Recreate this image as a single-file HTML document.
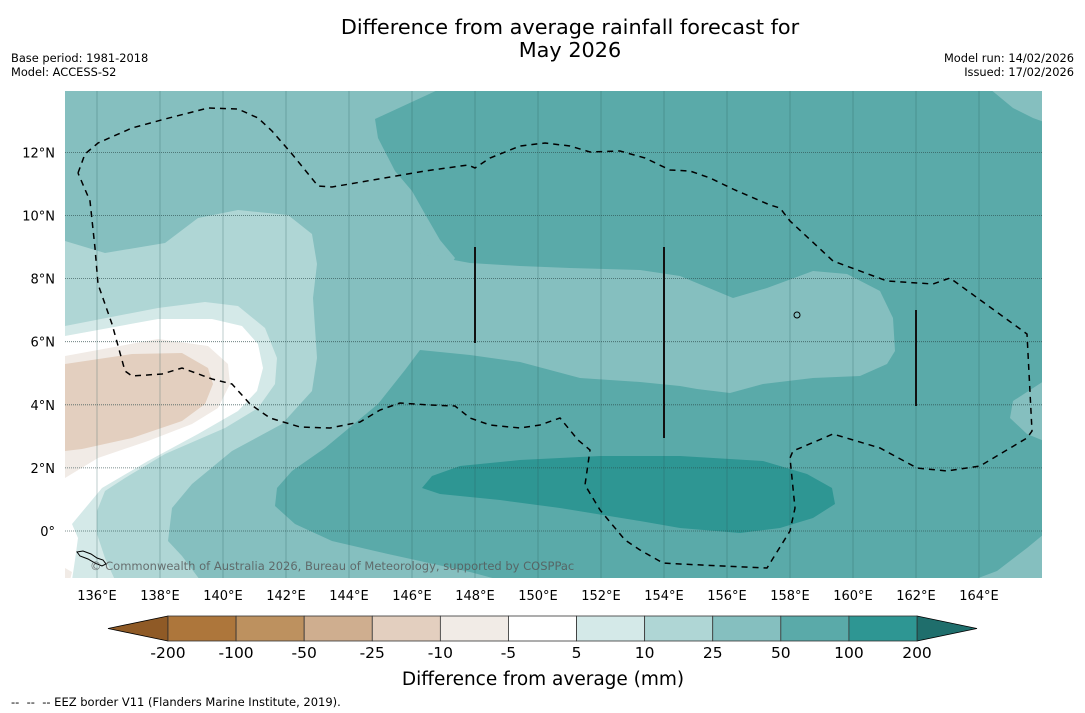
<!DOCTYPE html>
<html><head><meta charset="utf-8"><style>
body{margin:0;background:#fff;width:1085px;height:713px;overflow:hidden;font-family:"DejaVu Sans","Liberation Sans",sans-serif}
svg{position:absolute;left:0;top:0}
</style></head><body>
<svg id="s" width="1085" height="713" viewBox="0 0 1085 713">
<text x="570" y="34" font-size="20.8" text-anchor="middle" fill="#000">Difference from average rainfall forecast for</text>
<text x="570" y="57" font-size="20.8" text-anchor="middle" fill="#000">May 2026</text>
<text x="11" y="62" font-size="11.4">Base period: 1981-2018</text>
<text x="11" y="76" font-size="11.4">Model: ACCESS-S2</text>
<text x="1074" y="62" font-size="11.4" text-anchor="end">Model run: 14/02/2026</text>
<text x="1074" y="76" font-size="11.4" text-anchor="end">Issued: 17/02/2026</text>
<defs><clipPath id="mc"><rect x="65" y="91" width="977" height="487"/></clipPath></defs>
<g clip-path="url(#mc)">
<rect x="65" y="91" width="977" height="487" fill="#85bfbf"/>
<polygon fill="#afd6d5" points="65,241 105,253 165,243 198,218 238,210 288,215 312,234 317,264 313,298 317,358 312,391 282,424 232,451 192,484 172,508 168,541 182,556 200,580 65,580"/>
<polygon fill="#d4e9e8" points="65,326 158,308 205,302 238,306 265,328 277,358 275,384 258,408 225,428 165,454 125,478 105,491 97,511 97,534 105,558 115,580 65,580"/>
<polygon fill="#ffffff" points="65,336 158,319 212,319 242,326 258,344 263,368 257,391 238,411 198,434 148,461 102,488 72,524 78,538 75,560 72,580 65,580"/>
<polygon fill="#f1ebe6" points="65,356 158,339 208,346 228,364 230,384 218,408 192,424 148,441 98,458 65,478"/>
<polygon fill="#e3cfbf" points="65,364 132,354 182,353 208,368 213,384 205,404 182,421 132,438 82,449 65,451"/>
<polygon fill="#f1ebe6" points="65,568 72,572 70,580 65,580"/>
<polygon fill="#5aaaa9" points="440,89 375,119 378,138 395,171 412,191 425,214 440,240 455,258 430,300 420,350 405,370 378,404 325,448 292,471 277,488 275,506 295,524 332,541 388,554 470,572 500,580 973,580 997,571 1027,548 1044,534 1044,441 1027,434 1010,418 1013,401 1044,381 1044,122 1033,118 1013,108 990,89"/>
<polygon fill="#85bfbf" points="400,250 470,263 520,266 570,268 640,270 680,276 733,298 767,288 813,271 847,274 880,291 893,318 895,351 887,364 860,376 813,378 763,384 730,393 697,389 680,386 640,382 580,378 520,362 470,355 420,350 400,350"/>
<polygon fill="#2e9693" points="432,476 460,466 520,460 600,456 680,456 763,461 807,474 832,488 835,504 813,518 780,528 740,533 680,528 640,521 560,508 500,500 440,494 422,488"/>
<g id="grid"></g>
<polyline fill="none" stroke="#000" stroke-width="1.5" stroke-dasharray="6,5" points="78,173 85,154 98,143 132,128 165,119 208,108 238,109 258,118 272,131 292,154 318,186 332,187 425,171 468,165 475,168 490,158 520,146 545,143 570,146 590,152 620,151 645,158 670,170 690,171 710,178 735,190 770,205 780,208 790,221 833,261 887,281 933,284 950,278 1027,334 1032,431 1027,438 980,466 947,471 917,468 880,448 833,434 793,451 790,458 795,508 790,531 767,568 680,564 663,563 640,550 625,540 600,510 585,485 590,450 578,440 560,418 540,425 520,428 490,425 470,418 455,406 430,405 400,403 380,410 360,422 330,428 300,427 270,418 250,404 232,384 212,379 182,368 162,374 132,376 125,371 112,324 98,284 95,248 90,201 78,173"/>
<line x1="475" y1="247" x2="475" y2="343" stroke="#111" stroke-width="2"/>
<line x1="664" y1="247" x2="664" y2="438" stroke="#111" stroke-width="2"/>
<line x1="916" y1="310" x2="916" y2="406" stroke="#111" stroke-width="2"/>
<circle cx="797" cy="315" r="3" fill="none" stroke="#000" stroke-width="1"/>
<path d="M77,552 l6,-1 8,3 6,4 6,2 3,4 -4,2 -7,-3 -7,-4 -8,-3z" fill="none" stroke="#000" stroke-width="1"/>
<text x="90" y="570" font-size="11.5" fill="#555" fill-opacity="0.8">© Commonwealth of Australia 2026, Bureau of Meteorology, supported by COSPPac</text>
</g>
<g id="axes"></g>
<g id="cbar"></g>
<text x="543" y="685" font-size="18.5" text-anchor="middle">Difference from average (mm)</text>
<text x="11" y="706" font-size="11.5">-- &nbsp;-- &nbsp;-- EEZ border V11 (Flanders Marine Institute, 2019).</text>
</svg>
<script>
const lonTicks=[136,138,140,142,144,146,148,150,152,154,156,158,160,162,164];
const latTicks=[0,2,4,6,8,10,12];
const cbarLevels=[-200,-100,-50,-25,-10,-5,5,10,25,50,100,200];
const cbarColors=["#ad763b","#bd915f","#cfae8f","#e3cfbf","#f1ebe6","#ffffff","#d4e9e8","#afd6d5","#85bfbf","#5aaaa9","#2e9693"];
const NS="http://www.w3.org/2000/svg";
const xLon=l=>65.5+(l-135)*31.5;
const yLat=l=>531-l*31.55;
function mk(t,a,p){const e=document.createElementNS(NS,t);for(const k in a)e.setAttribute(k,a[k]);p.appendChild(e);return e;}
const grid=document.getElementById('grid'),axes=document.getElementById('axes'),cb=document.getElementById('cbar');
lonTicks.forEach(l=>{
 const g=mk('line',{x1:xLon(l),x2:xLon(l),y1:91,y2:578,stroke:'#2a5a5a','stroke-width':0.6,'stroke-opacity':0.5},grid);
 
 
 const t=mk('text',{x:xLon(l),y:600,'font-size':13,'text-anchor':'middle'},axes);
 t.textContent=l+'°E';
 
 
});
latTicks.forEach(l=>{
 const g=mk('line',{x1:65,x2:1042,y1:yLat(l),y2:yLat(l),stroke:'#2a4a4a','stroke-width':0.8,'stroke-dasharray':'1,1','stroke-opacity':0.8},grid);
 
 
 const t=mk('text',{x:55,y:yLat(l)+5,'font-size':13,'text-anchor':'end'},axes);
 t.textContent=l===0?'0°':l+'°N';
 
 
});
const cx0=168,cw=(917-168)/cbarColors.length,cy=616,ch=25;
const lt=mk('polygon',{points:`${cx0},${cy} 108,${cy+ch/2} ${cx0},${cy+ch}`,fill:'#8f5a26',stroke:'#000','stroke-width':0.8},cb);


const rt=mk('polygon',{points:`917,${cy} 977,${cy+ch/2} 917,${cy+ch}`,fill:'#1f6e6c',stroke:'#000','stroke-width':0.8},cb);


cbarColors.forEach((c,i)=>{
 const r=mk('rect',{x:cx0+i*cw,y:cy,width:cw,height:ch,fill:c,stroke:'#333','stroke-width':0.8},cb);
 
 
});
cbarLevels.forEach((v,i)=>{
 const t=mk('text',{x:cx0+i*cw,y:658,'font-size':15.5,'text-anchor':'middle'},cb);
 t.textContent=v;
 
 
});
</script>
</body></html>
